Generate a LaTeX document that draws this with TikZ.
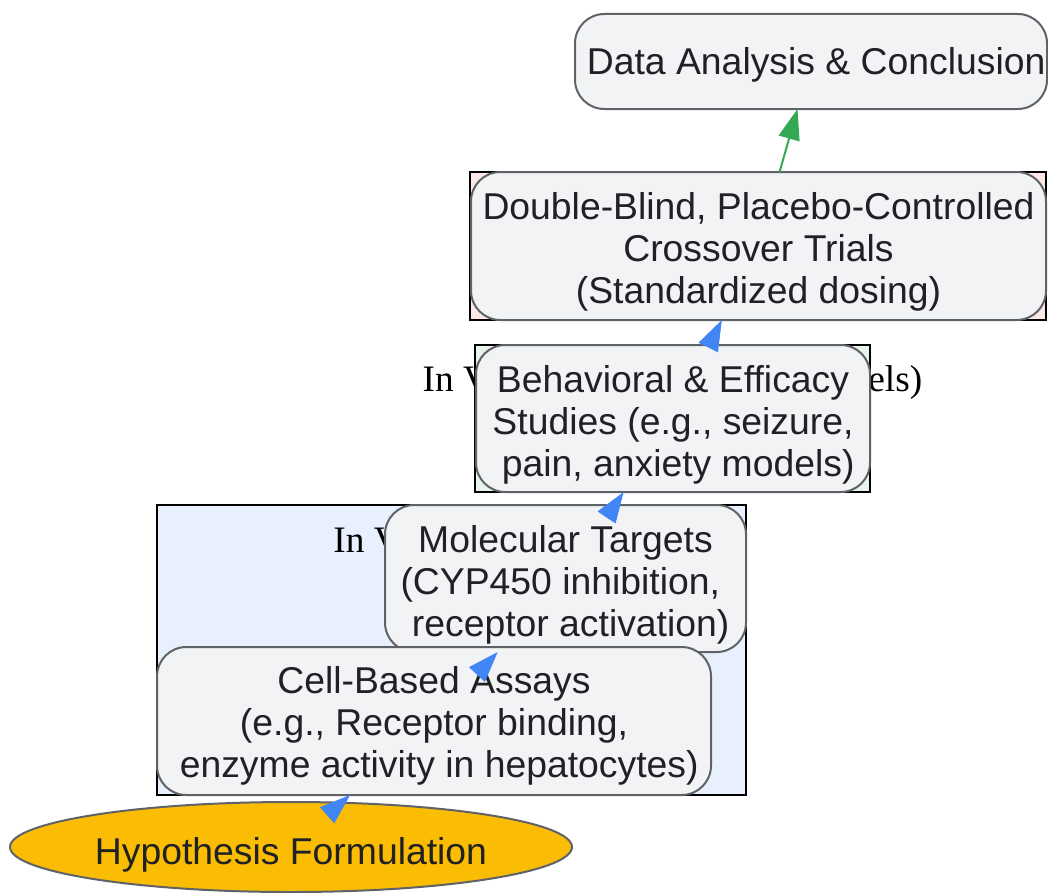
\documentclass[tikz,border=0pt]{standalone}
\usepackage{fontspec}
\setmainfont{Liberation Serif}
\newfontfamily\stagefont{Liberation Sans}
\usetikzlibrary{arrows.meta,shapes.geometric}
\definecolor{stagefill}{HTML}{F1F3F4}
\definecolor{stageline}{HTML}{5F6368}
\definecolor{stagetext}{HTML}{202124}
\definecolor{hypofill}{HTML}{FBBC04}
\definecolor{vitrofill}{HTML}{E8F0FE}
\definecolor{vivofill}{HTML}{E6F4EA}
\definecolor{clinicfill}{HTML}{FCE8E6}
\definecolor{flowblue}{HTML}{4285F4}
\definecolor{flowgreen}{HTML}{34A853}
\newcommand{\droptext}[2]{\raisebox{0pt}[\dimexpr\height+#1\relax][\depth]{\begin{tabular}{@{}c@{}}#2\end{tabular}}}
\begin{document}
\begin{tikzpicture}[x=0.75pt,y=0.75pt]
\tikzstyle{every node}+=[inner sep=0pt,outer sep=0pt]
\tikzstyle{stage}=[draw=stageline,fill=stagefill,line width=1.5pt,rounded corners=22pt,text=stagetext,font=\stagefont\fontsize{28}{31.5}\selectfont]
\tikzstyle{cluster}=[draw=black,line width=1.5pt]
\tikzstyle{clusterlabel}=[font=\fontsize{28}{32}\selectfont]
\tikzstyle{bluetip}=[tips=true,color=flowblue,line width=1pt,-{Triangle[length=23pt,width=16pt,color=flowblue]}]
\tikzstyle{greenflow}=[draw=flowgreen,line width=1.5pt,-{Triangle[length=23pt,width=16pt,color=flowgreen]}]
\useasboundingbox (0,0) rectangle (1048,-892);
\draw [cluster,fill=vitrofill] (157,-505) rectangle (746,-795);
\draw [cluster,fill=vivofill] (475,-345) rectangle (870,-492);
\draw [cluster,fill=clinicfill] (470,-172) rectangle (1046,-320);
\node [clusterlabel] (vitrolabel) at (451.5,-540) {In Vitro Studies};
\node [clusterlabel] (vivolabel) at (672.5,-383) {In Vivo Studies (Animal Models)};
\node [stage,minimum width=354pt,minimum height=71.25pt] (data) at (811,-61.5) {\droptext{7pt}{\ Data Analysis \& Conclusion}};
\node [stage,minimum width=431.25pt,minimum height=111pt] (trial) at (758.5,-246) {\droptext{10.5pt}{Double-Blind, Placebo-Controlled\\Crossover Trials\\(Standardized dosing)}};
\node [stage,minimum width=295.5pt,minimum height=110.25pt] (behav) at (673,-418.5) {\droptext{11pt}{Behavioral \& Efficacy\\Studies (e.g., seizure,\\\ pain, anxiety models)}};
\node [stage,minimum width=270.75pt,minimum height=110.25pt] (target) at (565.5,-578.5) {\droptext{11pt}{Molecular Targets\\(CYP450 inhibition,\ \null\\\ receptor activation)}};
\node [stage,minimum width=415.5pt,minimum height=111pt] (assay) at (434,-721) {\droptext{8.5pt}{Cell-Based Assays\\(e.g., Receptor binding,\\\ enzyme activity in hepatocytes)}};
\node [ellipse,draw=stageline,fill=hypofill,line width=1.5pt,minimum width=421.5pt,minimum height=67.5pt,text=stagetext,font=\stagefont\fontsize{28}{31.5}\selectfont] (hypo) at (291,-847) {\droptext{13pt}{Hypothesis Formulation}};
\path [bluetip] (hypo.center) -- (assay);
\path [bluetip] (assay.center) -- (target);
\path [bluetip] (target.center) -- (behav);
\path [bluetip] (behav.center) -- (trial);
\draw [greenflow] (trial) -- (data);
\end{tikzpicture}
\end{document}
